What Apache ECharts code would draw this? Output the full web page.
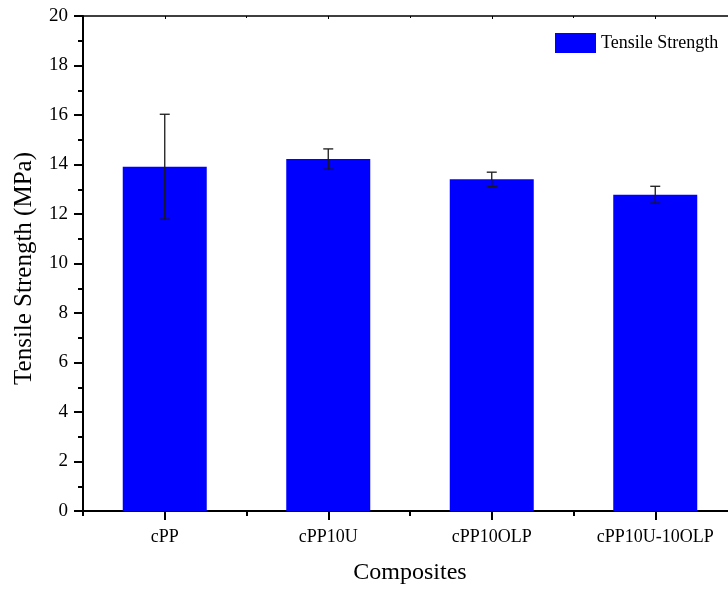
<!DOCTYPE html>
<html>
<head>
<meta charset="utf-8">
<script src="https://cdn.jsdelivr.net/npm/echarts@6/dist/echarts.min.js"></script>
<style>
html,body{margin:0;padding:0;background:#fff;overflow:hidden;width:728px;height:592px;}
#chart{width:745px;height:592px;}
</style>
</head>
<body>
<div id="chart"></div>
<script>
const categories = ['cPP', 'cPP10U', 'cPP10OLP', 'cPP10U-10OLP'];
const strengthValues = [13.91, 14.22, 13.40, 12.78];
const strengthErrors = [2.12, 0.41, 0.29, 0.34];
const yTicks = [0, 2, 4, 6, 8, 10, 12, 14, 16, 18, 20];

const FONT = '"Liberation Serif", "Times New Roman", serif';
const chart = echarts.init(document.getElementById('chart'));

const errorData = categories.map((c, i) => [i, strengthValues[i] - strengthErrors[i], strengthValues[i] + strengthErrors[i]]);

const grid = { left: 83, top: 16, width: 654, height: 495, containLabel: false };

chart.setOption({
  animation: false,
  backgroundColor: '#fff',
  grid: grid,
  legend: {
    data: ['Tensile Strength'],
    left: 555, top: 33, padding: 0,
    itemWidth: 41, itemHeight: 20, icon: 'rect',
    textStyle: { fontFamily: FONT, fontSize: 18, color: '#000' }
  },
  xAxis: [
    {
      type: 'category', data: categories, position: 'bottom',
      name: 'Composites', nameLocation: 'middle', nameGap: 50,
      nameTextStyle: { fontFamily: FONT, fontSize: 24, color: '#000' },
      axisLine: { show: true, lineStyle: { color: '#000', width: 2 } },
      axisTick: { show: true, alignWithLabel: true, length: 9, lineStyle: { color: '#000', width: 2 } },
      axisLabel: { fontFamily: FONT, fontSize: 18, color: '#000', margin: 17 },
      splitLine: { show: false }
    },
    {
      type: 'category', data: categories, position: 'bottom',
      axisLine: { show: false },
      axisTick: { show: true, length: 5, lineStyle: { color: '#000', width: 2 } },
      axisLabel: { show: false },
      splitLine: { show: false }
    },
    {
      type: 'category', data: categories, position: 'top',
      axisLine: { show: true, lineStyle: { color: '#000', width: 1.5 } },
      axisTick: { show: true, inside: true, length: 2, interval: 0, lineStyle: { color: '#000', width: 1 } },
      axisLabel: { show: false },
      splitLine: { show: false }
    },
    {
      type: 'category', data: categories, position: 'top',
      axisLine: { show: false },
      axisTick: { show: true, inside: true, alignWithLabel: true, length: 3, interval: 0, lineStyle: { color: '#000', width: 1 } },
      axisLabel: { show: false },
      splitLine: { show: false }
    }
  ],
  yAxis: [{
    type: 'value', min: 0, max: 20, interval: 2,
    name: 'Tensile Strength (MPa)', nameLocation: 'middle', nameGap: 46,
    nameTextStyle: { fontFamily: FONT, fontSize: 25, color: '#000', padding: [0, 10, 0, 0] },
    axisLine: { show: true, lineStyle: { color: '#000', width: 2 } },
    axisTick: { show: true, length: 9, lineStyle: { color: '#000', width: 2 } },
    minorTick: { show: true, splitNumber: 2, length: 5, lineStyle: { color: '#000', width: 2 } },
    axisLabel: {
      fontFamily: FONT, fontSize: 19, color: '#000', margin: 15,
      formatter: v => yTicks.indexOf(v) >= 0 ? String(v) : ''
    },
    splitLine: { show: false }
  }],
  series: [
    {
      name: 'Tensile Strength', type: 'bar', data: strengthValues,
      xAxisIndex: 0, barWidth: 84,
      itemStyle: { color: '#0000FF' }
    },
    {
      name: 'err', type: 'custom', xAxisIndex: 0, data: errorData, z: 10,
      renderItem: function (params, api) {
        const x = api.value(0);
        const lo = api.coord([x, api.value(1)]);
        const hi = api.coord([x, api.value(2)]);
        const hw = 5;
        const style = { stroke: '#1a1a1a', lineWidth: 1.3 };
        return {
          type: 'group',
          children: [
            { type: 'line', shape: { x1: hi[0], y1: hi[1], x2: lo[0], y2: lo[1] }, style: style },
            { type: 'line', shape: { x1: hi[0] - hw, y1: hi[1], x2: hi[0] + hw, y2: hi[1] }, style: style },
            { type: 'line', shape: { x1: lo[0] - hw, y1: lo[1], x2: lo[0] + hw, y2: lo[1] }, style: style }
          ]
        };
      }
    }
  ]
});
</script>
</body>
</html>
